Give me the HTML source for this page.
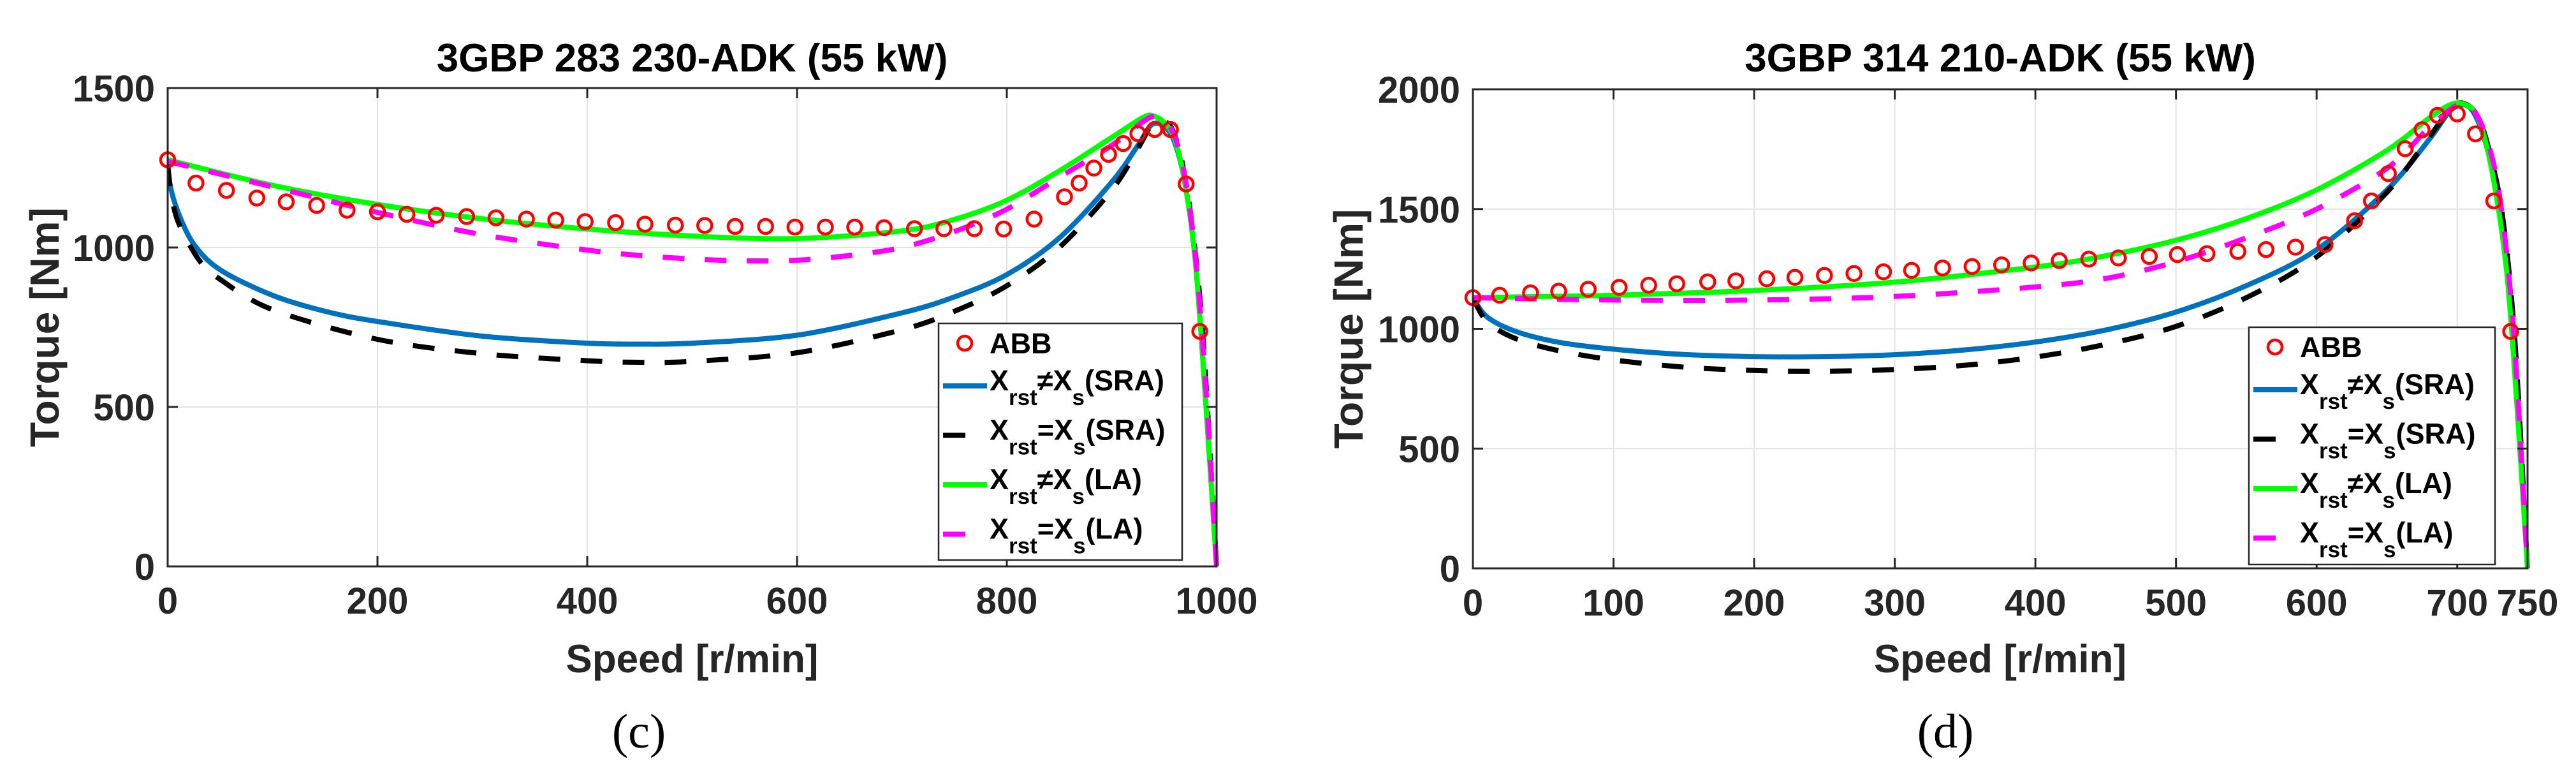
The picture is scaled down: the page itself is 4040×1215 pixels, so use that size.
<!DOCTYPE html>
<html><head><meta charset="utf-8"><style>
html,body{margin:0;padding:0;background:#fff;}
svg{display:block;}
text{font-family:"Liberation Sans",Arial,sans-serif;}
</style></head><body>
<svg id="fig" width="4040" height="1215" viewBox="0 0 4040 1215" xmlns="http://www.w3.org/2000/svg"></svg>
<script>
// ---------- Panel (c) data ----------
const cTitle = "3GBP 283 230-ADK (55 kW)";
const cXTicks = [0,200,400,600,800,1000];
const cYTicks = [0,500,1000,1500];
const cAbbSpeed = [0,27,56,85,113,142,171,200,228,256,285,313,342,370,398,427,455,484,512,541,570,598,627,655,683,712,740,769,797,826,855,869,883,897,911,925,941,956,971,984];
const cAbbTorque = [1275,1202,1179,1155,1143,1132,1117,1112,1104,1101,1097,1093,1089,1086,1081,1078,1073,1070,1069,1066,1066,1064,1064,1064,1062,1059,1059,1059,1058,1089,1159,1202,1249,1292,1326,1357,1370,1370,1199,737];
const cBlueSpeed  = [0,2,10,25,50,100,150,200,300,400,450,500,600,700,750,800,850,900,925,938,950,960,970,980,990,1000];
const cBlueTorque = [1270,1200,1110,1010,930,850,800,768,722,700,697,700,725,795,845,915,1030,1205,1320,1385,1380,1330,1200,950,500,0];
const cBlackSpeed  = [0,3,10,30,50,100,200,300,400,450,500,600,700,750,800,850,900,925,937,947,957,967,977,987,1000];
const cBlackTorque = [1260,1180,1080,960,900,805,712,667,645,640,643,670,742,800,880,1000,1180,1310,1380,1395,1375,1270,1060,720,0];
const cGreenSpeed  = [0,100,200,300,400,500,600,700,750,800,850,900,930,940,950,960,970,980,990,1000];
const cGreenTorque = [1275,1195,1135,1090,1058,1036,1028,1052,1088,1148,1240,1345,1408,1412,1392,1340,1200,950,500,0];
const cMagSpeed  = [0,100,200,300,400,450,500,550,600,650,700,750,800,850,900,930,942,952,962,972,982,992,1000];
const cMagTorque = [1270,1190,1110,1040,992,975,964,958,960,975,1000,1050,1120,1220,1320,1395,1412,1395,1330,1180,900,450,0];

// ---------- Panel (d) data ----------
const dTitle = "3GBP 314 210-ADK (55 kW)";
const dXTicks = [0,100,200,300,400,500,600,700,750];
const dYTicks = [0,500,1000,1500,2000];
const dAbbSpeed = [0,19,41,61,82,104,125,145,167,187,209,229,250,271,292,312,334,355,376,397,417,438,459,481,501,522,544,564,585,606,627,639,651,663,675,686,700,713,726,738];
const dAbbTorque = [1130,1140,1150,1157,1165,1173,1182,1188,1196,1200,1209,1215,1223,1231,1238,1244,1254,1260,1267,1275,1285,1291,1296,1302,1310,1314,1323,1331,1341,1352,1451,1534,1648,1752,1831,1891,1897,1814,1534,989];
const dBlueSpeed  = [0,10,30,60,100,150,200,250,300,350,400,450,500,550,600,650,680,695,705,712,720,730,740,750];
const dBlueTorque = [1130,1050,990,945,915,893,884,884,892,912,945,995,1070,1180,1330,1580,1790,1910,1935,1900,1780,1530,1000,0];
const dBlackSpeed  = [0,10,30,60,100,150,200,250,300,350,400,450,500,550,600,650,680,697,707,715,722,732,741,750];
const dBlackTorque = [1130,1030,960,910,870,840,826,823,830,848,882,935,1010,1130,1300,1570,1800,1930,1935,1880,1760,1480,950,0];
const dGreenSpeed  = [0,50,100,200,300,400,450,500,550,600,650,680,695,705,715,725,735,742,750];
const dGreenTorque = [1130,1135,1140,1160,1195,1258,1305,1370,1460,1580,1745,1880,1935,1938,1880,1650,1250,720,0];
const dMagSpeed  = [0,100,200,300,400,450,500,550,600,650,680,700,710,720,730,740,750];
const dMagTorque = [1130,1120,1120,1135,1175,1210,1280,1380,1500,1670,1840,1935,1925,1810,1560,1000,0];

const NS = "http://www.w3.org/2000/svg";
const svg = document.getElementById('fig');
function mk(tag, attrs, parent){
  const e = document.createElementNS(NS, tag);
  for (const k in attrs) e.setAttribute(k, attrs[k]);
  (parent||svg).appendChild(e);
  return e;
}
function smoothPath(pts){
  let d = "M"+pts[0][0].toFixed(1)+","+pts[0][1].toFixed(1);
  for (let i=0;i<pts.length-1;i++){
    const p0=pts[Math.max(0,i-1)], p1=pts[i], p2=pts[i+1], p3=pts[Math.min(pts.length-1,i+2)];
    const t=0.16;
    const c1=[p1[0]+(p2[0]-p0[0])*t, p1[1]+(p2[1]-p0[1])*t];
    const c2=[p2[0]-(p3[0]-p1[0])*t, p2[1]-(p3[1]-p1[1])*t];
    d += " C"+c1[0].toFixed(1)+","+c1[1].toFixed(1)+" "+c2[0].toFixed(1)+","+c2[1].toFixed(1)+" "+p2[0].toFixed(1)+","+p2[1].toFixed(1);
  }
  return d;
}

function panel(cfg){
  const g = mk('g', {});
  
  
  const X = v => cfg.x0 + (v - cfg.xmin)/(cfg.xmax - cfg.xmin)*(cfg.x1 - cfg.x0);
  const Y = v => cfg.y0 - (v - cfg.ymin)/(cfg.ymax - cfg.ymin)*(cfg.y0 - cfg.y1);
  cfg.xTicks.forEach(t => {
    const l = mk('line', {x1:X(t), x2:X(t), y1:cfg.y1, y2:cfg.y0, stroke:'#e3e3e3','stroke-width':2}, g);
    
    
  });
  cfg.yTicks.forEach(t => {
    const l = mk('line', {x1:cfg.x0, x2:cfg.x1, y1:Y(t), y2:Y(t), stroke:'#e3e3e3','stroke-width':2}, g);
    
    
  });
  const clipId = cfg.name+'-clip';
  const cp = mk('clipPath', {id:clipId}, g);
  mk('rect', {x:cfg.x0, y:cfg.y1-20, width:cfg.x1-cfg.x0+6, height:cfg.y0-cfg.y1+20}, cp);
  const cg = mk('g', {'clip-path':'url(#'+clipId+')'}, g);
  cfg.series.forEach(s => {
    const pts = s.xs.map((v,i) => [X(v), Y(s.ys[i])]);
    const p = mk('path', {d:smoothPath(pts), fill:'none', stroke:s.color, 'stroke-width':8, 'stroke-linejoin':'round'}, cg);
    if (s.dash) p.setAttribute('stroke-dasharray', '34 32');
    
    
  });
  cfg.abbX.forEach((v,i) => {
    const c = mk('circle', {cx:X(v), cy:Y(cfg.abbY[i]), r:11, fill:'none', stroke:'#ff0000', 'stroke-width':4.5}, g);
    
    
  });
  const box = mk('rect', {x:cfg.x0, y:cfg.y1, width:cfg.x1-cfg.x0, height:cfg.y0-cfg.y1, fill:'none', stroke:'#262626','stroke-width':3}, g);
  
  
  cfg.xTicks.forEach(t => {
    mk('line', {x1:X(t), x2:X(t), y1:cfg.y0, y2:cfg.y0-16, stroke:'#262626','stroke-width':3}, g);
    mk('line', {x1:X(t), x2:X(t), y1:cfg.y1, y2:cfg.y1+16, stroke:'#262626','stroke-width':3}, g);
    const tx = mk('text', {x:X(t), y:cfg.y0+74, 'text-anchor':'middle', 'font-size':58, 'font-weight':'bold', fill:'#262626'}, g);
    tx.textContent = t;
    
    
  });
  cfg.yTicks.forEach(t => {
    mk('line', {x1:cfg.x0, x2:cfg.x0+16, y1:Y(t), y2:Y(t), stroke:'#262626','stroke-width':3}, g);
    mk('line', {x1:cfg.x1, x2:cfg.x1-16, y1:Y(t), y2:Y(t), stroke:'#262626','stroke-width':3}, g);
    const tx = mk('text', {x:cfg.x0-20, y:Y(t)+21, 'text-anchor':'end', 'font-size':58, 'font-weight':'bold', fill:'#262626'}, g);
    tx.textContent = t;
    
    
  });
  const ti = mk('text', {x:(cfg.x0+cfg.x1)/2, y:112, 'text-anchor':'middle', 'font-size':62, 'font-weight':'bold', fill:'#000'}, g);
  ti.textContent = cfg.title;
  
  
  const xl = mk('text', {x:(cfg.x0+cfg.x1)/2, y:1054, 'text-anchor':'middle', 'font-size':62, 'font-weight':'bold', fill:'#262626'}, g);
  xl.textContent = 'Speed [r/min]';
  
  
  const yl = mk('text', {x:0, y:0, 'text-anchor':'middle', 'font-size':64, 'font-weight':'bold', fill:'#262626', transform:'translate('+(cfg.ylx)+','+((cfg.y0+cfg.y1)/2)+') rotate(-90)'}, g);
  yl.textContent = 'Torque [Nm]';
  
  
  const pl = mk('text', {x:cfg.capX, y:1172, 'text-anchor':'middle', 'font-size':76, fill:'#000', style:'font-family:"Liberation Serif",serif'}, g);
  pl.textContent = cfg.cap;
  
  
  const L = cfg.leg;
  const lg = mk('g', {}, g);
  
  
  mk('rect', {x:L.x, y:L.y, width:L.w, height:L.h, fill:'#fff', stroke:'#262626', 'stroke-width':2.5}, lg);
  const mc = mk('circle', {cx:L.x+41, cy:L.y+31, r:11, fill:'none', stroke:'#ff0000','stroke-width':4.5}, lg);
  
  
  const at = mk('text', {x:L.x+80, y:L.y+47, 'font-size':45, 'font-weight':'bold'}, lg);
  at.textContent = 'ABB';
  
  
  const rows = [
    {c:'#0072bd', dash:false, op:'\u2260', tag:'(SRA)'},
    {c:'#000000', dash:true,  op:'=', tag:'(SRA)'},
    {c:'#00ff00', dash:false, op:'\u2260', tag:'(LA)'},
    {c:'#ff00ff', dash:true,  op:'=', tag:'(LA)'}
  ];
  rows.forEach((r,i) => {
    const cy = L.y + 98 + i*77.5;
    const ln = mk('line', {x1:L.x+7, x2:L.x+(r.dash?42:76), y1:cy, y2:cy, stroke:r.c, 'stroke-width':8}, lg);
    
    
    const t = mk('text', {x:L.x+80, y:cy+7, 'font-size':45, 'font-weight':'bold'}, lg);
    
    
    const a = mk('tspan', {}, t); a.textContent = 'X';
    const b = mk('tspan', {dy:23, 'font-size':35}, t); b.textContent = 'rst';
    const c = mk('tspan', {dy:-23}, t); c.textContent = r.op + 'X';
    const d = mk('tspan', {dy:23, 'font-size':35}, t); d.textContent = 's';
    const e = mk('tspan', {dy:-23}, t); e.textContent = r.tag;
  });
}

panel({
  name:'panel-c', title:cTitle, cap:'(c)', capX:1002, ylx:92,
  x0:263, x1:1908, y0:888, y1:138, xmin:0, xmax:1000, ymin:0, ymax:1500,
  xTicks:cXTicks, yTicks:cYTicks, abbX:cAbbSpeed, abbY:cAbbTorque,
  series:[
    {id:'xrst-ne-xs-sra', xs:cBlueSpeed, ys:cBlueTorque, color:'#0072bd', dash:false},
    {id:'xrst-eq-xs-sra', xs:cBlackSpeed, ys:cBlackTorque, color:'#000000', dash:true},
    {id:'xrst-ne-xs-la', xs:cGreenSpeed, ys:cGreenTorque, color:'#00ff00', dash:false},
    {id:'xrst-eq-xs-la', xs:cMagSpeed, ys:cMagTorque, color:'#ff00ff', dash:true}
  ],
  leg:{x:1472, y:507, w:382, h:371}
});
panel({
  name:'panel-d', title:dTitle, cap:'(d)', capX:3051, ylx:2137,
  x0:2310, x1:3964, y0:891, y1:140, xmin:0, xmax:750, ymin:0, ymax:2000,
  xTicks:dXTicks, yTicks:dYTicks, abbX:dAbbSpeed, abbY:dAbbTorque,
  series:[
    {id:'xrst-ne-xs-sra', xs:dBlueSpeed, ys:dBlueTorque, color:'#0072bd', dash:false},
    {id:'xrst-eq-xs-sra', xs:dBlackSpeed, ys:dBlackTorque, color:'#000000', dash:true},
    {id:'xrst-ne-xs-la', xs:dGreenSpeed, ys:dGreenTorque, color:'#00ff00', dash:false},
    {id:'xrst-eq-xs-la', xs:dMagSpeed, ys:dMagTorque, color:'#ff00ff', dash:true}
  ],
  leg:{x:3527, y:513, w:386, h:372}
});
</script>
</body></html>
